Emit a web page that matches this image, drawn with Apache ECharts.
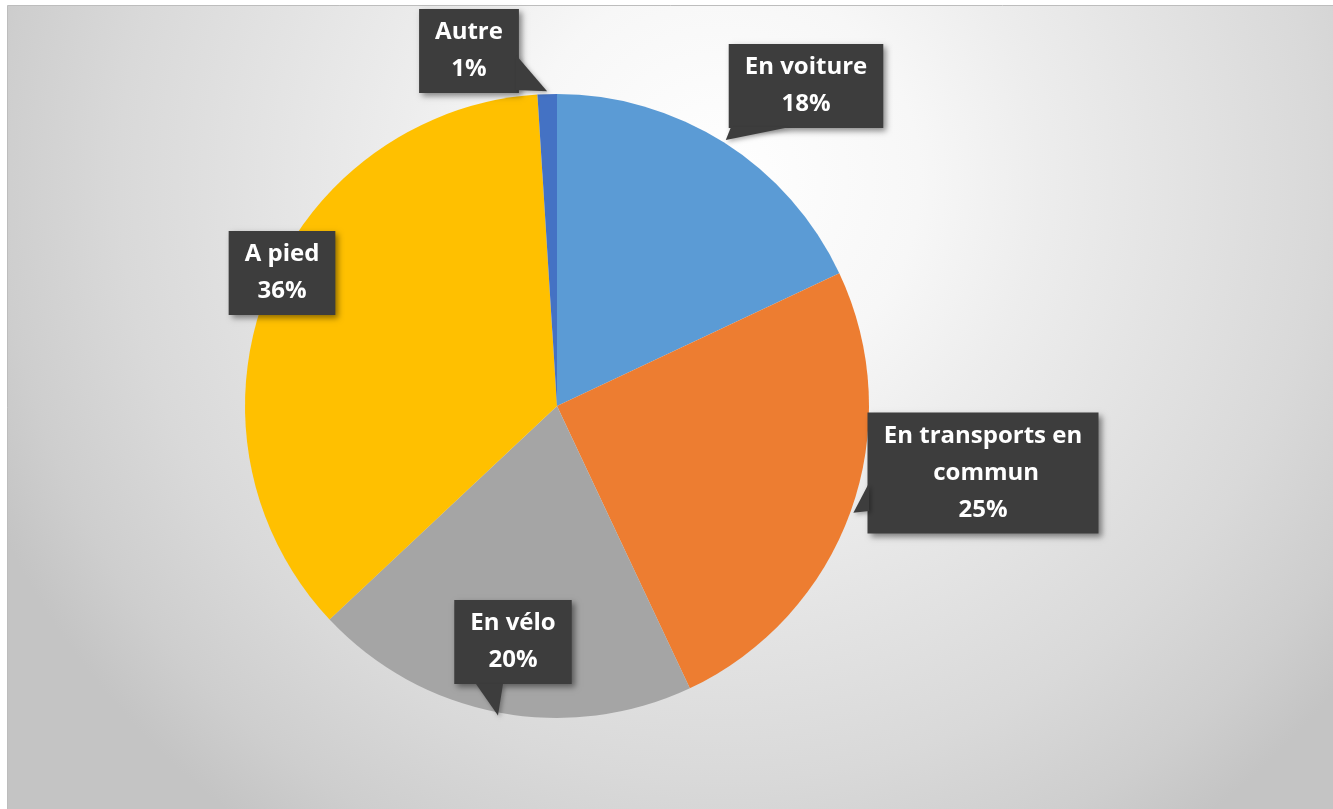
<!DOCTYPE html>
<html>
<head>
<meta charset="utf-8">
<style>
  html, body { margin: 0; padding: 0; background: #ffffff; }
  #chart { width: 1333px; height: 809px; }
</style>
<script src="https://cdn.jsdelivr.net/npm/echarts@6/dist/echarts.min.js"></script>
</head>
<body>
<div id="chart"></div>
<script>
// ---- data ----
const categories = ['En voiture', 'En transports en commun', 'En vélo', 'A pied', 'Autre'];
const values = [18, 25, 20, 36, 1];
const colors = ['#5B9BD5', '#ED7D31', '#A5A5A5', '#FFC000', '#4472C4'];

// ---- layout (pixels) ----
const CENTER = [557, 406];
const RADIUS = 312;
const LABEL_CENTER = [[806, 86], [983, 473], [513, 642], [282, 273], [469, 51]];
const POINTER_BASE = [
  [[731, 127], [790, 127]],
  [[869, 483], [869, 511]],
  [[476, 684], [503, 684]],
  null,
  [[516, 55], [516, 90]]
];

const chart = echarts.init(document.getElementById('chart'), null, { renderer: 'canvas' });

const total = values.reduce((a, b) => a + b, 0);
let cum = 0;
const pointers = [];
values.forEach((v, i) => {
  const theta = 2 * Math.PI * (cum + v / 2) / total;
  cum += v;
  if (!POINTER_BASE[i]) return;
  const R = RADIUS + 3;
  const tip = [CENTER[0] + R * Math.sin(theta), CENTER[1] - R * Math.cos(theta)];
  pointers.push({
    type: 'polygon',
    z: 2, z2: 50,
    silent: true,
    shape: { points: [POINTER_BASE[i][0], POINTER_BASE[i][1], tip] },
    style: { fill: '#3d3d3d', shadowBlur: 4, shadowColor: 'rgba(0,0,0,0.3)', shadowOffsetX: 2, shadowOffsetY: 2 }
  });
});

const option = {
  backgroundColor: '#ffffff',
  animation: false,
  graphic: [
    {
      type: 'rect', z: 0, z2: 0, silent: true,
      shape: { x: 7.5, y: 5.5, width: 1330, height: 810 },
      style: {
        fill: {
          type: 'radial', x: 720, y: 180, r: 800, global: true,
          colorStops: [
            { offset: 0, color: '#ffffff' },
            { offset: 0.25, color: '#f7f7f7' },
            { offset: 0.4, color: '#ededed' },
            { offset: 0.75, color: '#d9d9d9' },
            { offset: 0.9, color: '#cecece' },
            { offset: 1, color: '#c4c4c4' }
          ]
        },
        stroke: '#bdbdbd', lineWidth: 1
      }
    }
  ].concat(pointers),
  series: [{
    type: 'pie',
    z: 2,
    center: CENTER,
    radius: RADIUS,
    startAngle: 90,
    clockwise: true,
    silent: true,
    data: categories.map((c, i) => {
      const item = { name: c, value: values[i], itemStyle: { color: colors[i] } };
      if (i === 1) item.label = { width: 199, overflow: 'break' };
      return item;
    }),
    label: {
      show: true,
      position: 'outside',
      formatter: '{b}\n{d}%',
      color: '#ffffff',
      fontFamily: 'Open Sans',
      fontWeight: 'bold',
      fontSize: 24,
      lineHeight: 37,
      align: 'center',
      backgroundColor: '#3d3d3d',
      padding: [5, 16],
      shadowBlur: 6,
      shadowColor: 'rgba(0,0,0,0.45)',
      shadowOffsetX: 3,
      shadowOffsetY: 3
    },
    labelLine: { show: false },
    labelLayout: function (params) {
      const p = LABEL_CENTER[params.dataIndex];
      return { x: p[0], y: p[1], align: 'center', verticalAlign: 'middle', moveOverlap: false, hideOverlap: false };
    }
  }]
};

chart.setOption(option);
</script>
</body>
</html>
